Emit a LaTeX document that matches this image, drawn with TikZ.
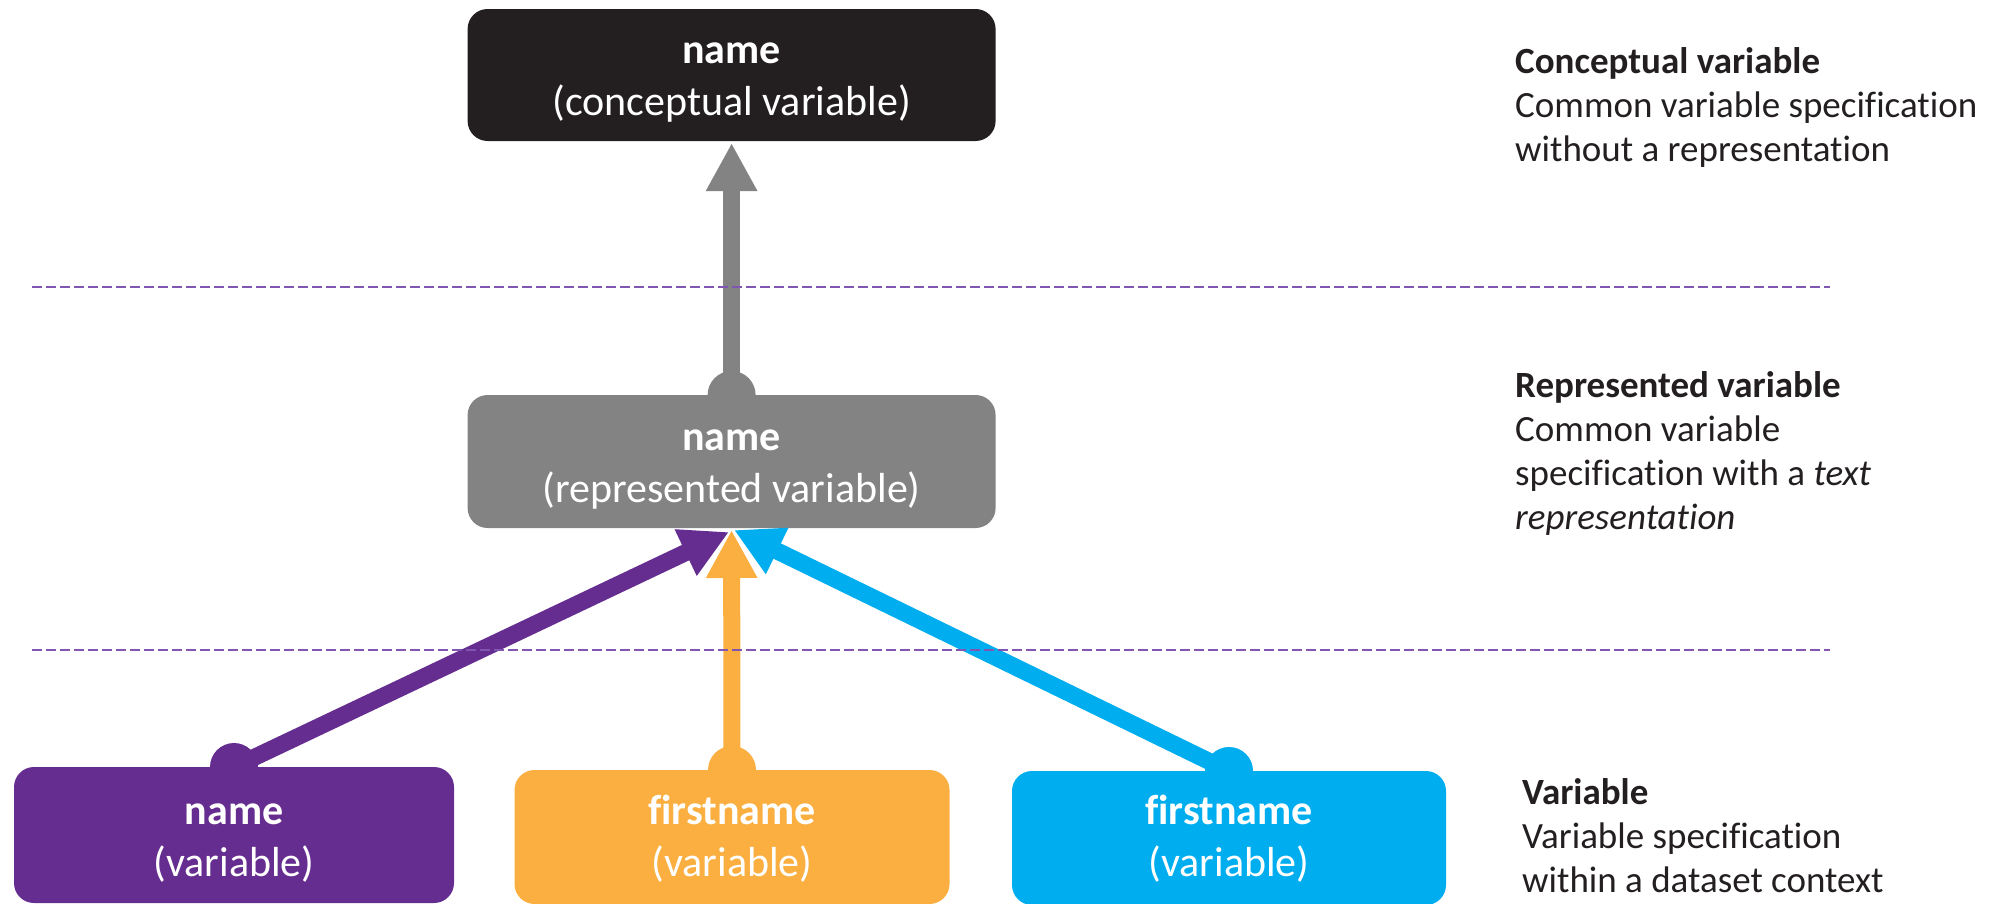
\documentclass[tikz,border=0pt]{standalone}
\usepackage{fontspec}
\setmainfont{Carlito}[Ligatures={NoCommon}]
\usetikzlibrary{arrows.meta}
\definecolor{cblack}{HTML}{231F20}
\definecolor{cgray}{HTML}{838383}
\definecolor{cpurple}{HTML}{652D90}
\definecolor{corange}{HTML}{FAAF40}
\definecolor{cblue}{HTML}{00AEEF}
\definecolor{cdash}{HTML}{8155B2}
\definecolor{ctext}{HTML}{231F20}
\begin{document}
\begin{tikzpicture}[x=1pt,y=-1pt,
  box/.style={rectangle, rounded corners=20pt, inner sep=0pt, draw=none},
  boxtext/.style={anchor=base, align=center, text=white, inner sep=0pt, font=\fontsize{42}{52}\selectfont},
  side/.style={anchor=base west, align=left, text=ctext, inner sep=0pt, font=\fontsize{37}{44}\selectfont},
  conn/.style={line width=17pt, -{Triangle[length=48pt,width=48pt]}},
  sep/.style={cdash, line width=2pt, dash pattern=on 10pt off 4pt}]
\useasboundingbox (0,0) rectangle (2000,903);

% boxes (text nodes are anchored at the baseline of their last line)
\node[box, fill=cblack, minimum width=528pt, minimum height=132pt] (concept) at (731.6,75) {};
\node[boxtext] (conceptT) at (731.6,115) {\textbf{name}\\(conceptual variable)};

\node[box, fill=cgray, minimum width=528pt, minimum height=133pt] (repr) at (731.6,461.5) {};
\node[boxtext] (reprT) at (731.6,502) {\textbf{name}\\(represented variable)};

\node[box, fill=cpurple, minimum width=440pt, minimum height=136pt] (varA) at (234,835) {};
\node[boxtext] (varAT) at (234,876) {\textbf{name}\\(variable)};

\node[box, fill=corange, minimum width=435pt, minimum height=134pt] (varB) at (732,837) {};
\node[boxtext] (varBT) at (732,876) {\textbf{firstname}\\(variable)};

\node[box, fill=cblue, minimum width=434pt, minimum height=134pt] (varC) at (1229,838) {};
\node[boxtext] (varCT) at (1229,876) {\textbf{firstname}\\(variable)};

% connector ends
\coordinate (bR) at (731.6,395);
\coordinate (bA) at (234,767);
\coordinate (bB) at (732,770);
\coordinate (bC) at (1229,771);
\coordinate (tR) at (731.6,143);
\coordinate (tA) at (729,532);
\coordinate (tB) at (731.6,530);
\coordinate (tC) at (734,530);

% connectors
\draw[conn, cgray] (bR) -- (tR);
\draw[conn, cpurple] (bA) -- (tA);
\draw[conn, corange] (bB) -- (tB);
\draw[conn, cblue] (bC) -- (tC);

% bumps
\fill[cgray] (bR) circle (24pt);
\fill[cpurple] (bA) circle (24pt);
\fill[corange] (bB) circle (24pt);
\fill[cblue] (bC) circle (24pt);

% separators
\coordinate (s1a) at (32,287);
\coordinate (s1b) at (1830,287);
\coordinate (s2a) at (32,650);
\coordinate (s2b) at (1830,650);
\draw[sep] (s1a) -- (s1b);
\draw[sep] (s2a) -- (s2b);

% side texts (anchored at the baseline of their last line)
\node[side] (lc) at (1515,161) {\textbf{Conceptual variable}\\Common variable specification\\without a representation};
\node[side] (lr) at (1515,529) {\textbf{Represented variable}\\Common variable\\specification with a \textit{text}\\\textit{representation}};
\node[side] (lv) at (1522,892) {\textbf{Variable}\\Variable specification\\within a dataset context};
\end{tikzpicture}
\end{document}
